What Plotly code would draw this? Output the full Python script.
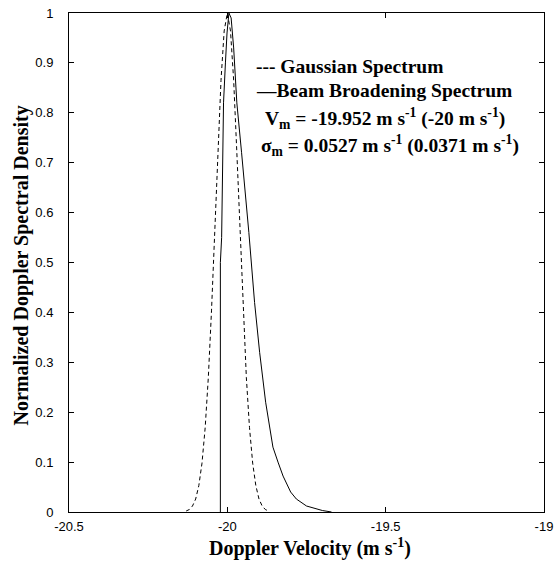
import plotly.graph_objects as go

# Gaussian spectrum (dashed)
gauss_v = [-20.13, -20.12, -20.11, -20.10, -20.09, -20.08, -20.07, -20.06, -20.05,
           -20.04, -20.03, -20.02, -20.01, -20.00, -19.99, -19.98, -19.97, -19.96,
           -19.95, -19.94, -19.93, -19.92, -19.91, -19.90, -19.89, -19.88, -19.87]
gauss_s = [0.002, 0.005, 0.012, 0.026, 0.053, 0.098, 0.169, 0.270, 0.403,
           0.559, 0.721, 0.865, 0.964, 1.0, 0.964, 0.865, 0.721, 0.559,
           0.403, 0.270, 0.169, 0.098, 0.053, 0.026, 0.012, 0.005, 0.002]

# Beam broadening spectrum (solid)
beam_v = [-20.022, -20.022, -20.018, -20.016, -20.012, -20.006, -20.001, -19.995,
          -19.988, -19.980, -19.970, -19.955, -19.940, -19.932, -19.914, -19.898,
          -19.879, -19.868, -19.856, -19.840, -19.824, -19.800, -19.782, -19.750,
          -19.720, -19.700, -19.671]
beam_s = [0.0, 0.50, 0.55, 0.70, 0.82, 0.90, 0.96, 1.0,
          0.99, 0.93, 0.82, 0.72, 0.62, 0.56, 0.42, 0.32,
          0.22, 0.18, 0.13, 0.10, 0.072, 0.040, 0.026, 0.012,
          0.006, 0.003, 0.0]

x_ticks = [-20.5, -20, -19.5, -19]
x_labels = ['-20.5', '-20', '-19.5', '-19']
y_ticks = [0, 0.1, 0.2, 0.3, 0.4, 0.5, 0.6, 0.7, 0.8, 0.9, 1]
y_labels = ['0', '0.1', '0.2', '0.3', '0.4', '0.5', '0.6', '0.7', '0.8', '0.9', '1']

serif = 'Liberation Serif'

fig = go.Figure()
fig.add_trace(go.Scatter(x=gauss_v, y=gauss_s, mode='lines',
                         line=dict(color='black', width=1, dash='4px,3px')))
fig.add_trace(go.Scatter(x=beam_v, y=beam_s, mode='lines',
                         line=dict(color='black', width=1)))

# legend / stats text, as in the original figure
notes = [
    (0.390, 0.892, '<b>--- Gaussian Spectrum</b>'),
    (0.390, 0.844, '<b>\u2014Beam Broadening Spectrum</b>'),
    (0.408, 0.788, '<b>V<sub>m</sub> = -19.952 m s<sup>-1</sup> (-20 m s<sup>-1</sup>)</b>'),
    (0.400, 0.734, '<b>\u03c3<sub>m</sub> = 0.0527 m s<sup>-1</sup> (0.0371 m s<sup>-1</sup>)</b>'),
]
for xp, yp, txt in notes:
    fig.add_annotation(x=xp, y=yp, xref='paper', yref='paper', text=txt,
                       showarrow=False, xanchor='left', yanchor='middle',
                       font=dict(family=serif, size=19.5, color='black'))

# axis titles
fig.add_annotation(x=0.507, y=-0.072, xref='paper', yref='paper',
                   text='<b>Doppler Velocity (m s<sup>-1</sup>)</b>', showarrow=False,
                   xanchor='center', yanchor='middle',
                   font=dict(family=serif, size=20, color='black'))
fig.add_annotation(x=-0.101, y=0.494, xref='paper', yref='paper', textangle=-90,
                   text='<b>Normalized Doppler Spectral Density</b>', showarrow=False,
                   xanchor='center', yanchor='middle',
                   font=dict(family=serif, size=20, color='black'))

axis_style = dict(showline=True, linecolor='black', linewidth=1, mirror='ticks',
                  ticks='inside', ticklen=5, tickcolor='black', showgrid=False,
                  zeroline=False, automargin=False, ticklabeloverflow='allow',
                  tickfont=dict(family='Liberation Sans', size=13, color='black'))

fig.update_xaxes(range=[-20.5, -19], tickvals=x_ticks, ticktext=x_labels,
                 ticklabelstandoff=2, **axis_style)
fig.update_yaxes(range=[0, 1], tickvals=y_ticks, ticktext=y_labels,
                 ticklabelstandoff=12, **axis_style)

fig.update_layout(width=554, height=570, showlegend=False,
                  plot_bgcolor='white', paper_bgcolor='white',
                  margin=dict(l=69, r=10, t=13, b=58))

# drop the default page margin so the figure fills the window exactly
fig.write_html("out.html", config={'displayModeBar': False},
               post_script="document.body.style.margin='0';")
